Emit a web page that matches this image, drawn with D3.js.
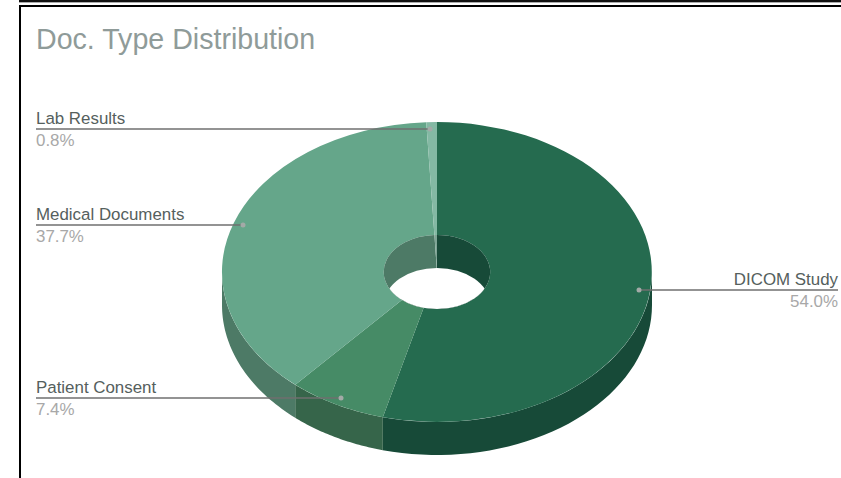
<!DOCTYPE html>
<html>
<head>
<meta charset="utf-8">
<script src="https://cdn.jsdelivr.net/npm/d3@7"></script>
<style>
  html, body { margin: 0; padding: 0; background: #fff; }
  text { font-family: "Liberation Sans", Arial, sans-serif; }
</style>
</head>
<body>
<div id="container"></div>
<script>
const canvasWidth = 841;
const canvasHeight = 478;

const categories = ['DICOM Study', 'Patient Consent', 'Medical Documents', 'Lab Results'];
const percents = [54.0, 7.4, 37.7, 0.8];

//top surface, then side wall color for each slice
const topColors = ['#256b4f', '#468b66', '#65a68a', '#84b9a4'];
const sideColors = ['#174a38', '#36654a', '#4d7a66', '#7fa596'];

const cx = 437;
const cy = 272;
const rx = 215;
const ry = 150;
const depth = 33;
const holeRatio = 0.247;

//leader lines: where the label sits and where the dot sits
const labelLayout = [
  {anchor:'end', textX:838, lineX:838, dotX:639, y:290},
  {anchor:'start', textX:36, lineX:36, dotX:341, y:398},
  {anchor:'start', textX:36, lineX:36, dotX:243, y:225},
  {anchor:'start', textX:36, lineX:36, dotX:430, y:129}
];

let svg = d3.select('#container')
  .append('svg')
  .attr('width', canvasWidth)
  .attr('height', canvasHeight)
  .style('display', 'block');

//frame
svg.append('rect').attr('x',19).attr('y',0).attr('width',canvasWidth-19).attr('height',2).attr('fill','#111');
svg.append('rect').attr('x',19).attr('y',2).attr('width',canvasWidth-19).attr('height',1).attr('fill','#aaa');
svg.append('rect').attr('x',19).attr('y',5).attr('width',canvasWidth-19).attr('height',2).attr('fill','#000');
svg.append('rect').attr('x',19).attr('y',5).attr('width',2).attr('height',canvasHeight-5).attr('fill','#000');

svg.append('text')
  .attr('x',36).attr('y',49)
  .attr('font-size',28.6)
  .attr('fill','#8f9b99')
  .text('Doc. Type Distribution');

let pie = d3.pie().sort(null);
let slices = pie(percents);

function pointOn(angle, k, dy){
  return [cx + rx*k*Math.sin(angle), cy - ry*k*Math.cos(angle) + dy];
}

//outer wall of a slice, only the part that faces the viewer
function wallPath(d){
  let a0 = Math.max(d.startAngle, Math.PI/2);
  let a1 = Math.min(d.endAngle, 3*Math.PI/2);
  if (a1 <= a0) return null;
  let top = d3.range(0, 41).map(i => pointOn(a0 + (a1-a0)*i/40, 1, 0));
  let bottom = top.slice().reverse().map(p => [p[0], p[1]+depth]);
  return d3.line()(top.concat(bottom)) + 'Z';
}

svg.append('g').selectAll('path')
  .data(slices)
  .enter().append('path')
  .attr('d', wallPath)
  .attr('fill', (d,i) => sideColors[i]);

let unitArc = d3.arc().innerRadius(holeRatio).outerRadius(1);
let holeArc = d3.arc().innerRadius(0).outerRadius(holeRatio);
let chart = svg.append('g').attr('transform', 'translate('+cx+','+cy+') scale('+rx+','+ry+')');

chart.selectAll('.top')
  .data(slices)
  .enter().append('path')
  .attr('class','top')
  .attr('d', unitArc)
  .attr('fill', (d,i) => topColors[i]);

//inside of the hole: far wall, then the white seen through it
let clip = svg.append('clipPath').attr('id','holeClip');
clip.append('ellipse').attr('cx',cx).attr('cy',cy).attr('rx',rx*holeRatio).attr('ry',ry*holeRatio);

chart.selectAll('.wall')
  .data(slices)
  .enter().append('path')
  .attr('class','wall')
  .attr('d', holeArc)
  .attr('fill', (d,i) => sideColors[i]);

svg.append('ellipse')
  .attr('clip-path','url(#holeClip)')
  .attr('cx',cx).attr('cy',cy+depth)
  .attr('rx',rx*holeRatio).attr('ry',ry*holeRatio)
  .attr('fill','#fff');

//labels
let labels = svg.append('g').selectAll('g')
  .data(categories)
  .enter().append('g');

labels.append('line')
  .attr('x1', (d,i) => labelLayout[i].lineX)
  .attr('x2', (d,i) => labelLayout[i].dotX)
  .attr('y1', (d,i) => labelLayout[i].y)
  .attr('y2', (d,i) => labelLayout[i].y)
  .attr('stroke', '#6f6f6f')
  .attr('stroke-width', 1.3);

labels.append('circle')
  .attr('cx', (d,i) => labelLayout[i].dotX)
  .attr('cy', (d,i) => labelLayout[i].y)
  .attr('r', 2.5)
  .attr('fill', '#a3aaa7');

labels.append('text')
  .attr('x', (d,i) => labelLayout[i].textX)
  .attr('y', (d,i) => labelLayout[i].y-5)
  .attr('text-anchor', (d,i) => labelLayout[i].anchor)
  .attr('font-size', 16.9)
  .attr('fill', '#55605d')
  .text(d => d);

labels.append('text')
  .attr('x', (d,i) => labelLayout[i].textX)
  .attr('y', (d,i) => labelLayout[i].y+17)
  .attr('text-anchor', (d,i) => labelLayout[i].anchor)
  .attr('font-size', 16.9)
  .attr('fill', '#a8a8a8')
  .text((d,i) => percents[i].toFixed(1)+'%');
</script>
</body>
</html>
